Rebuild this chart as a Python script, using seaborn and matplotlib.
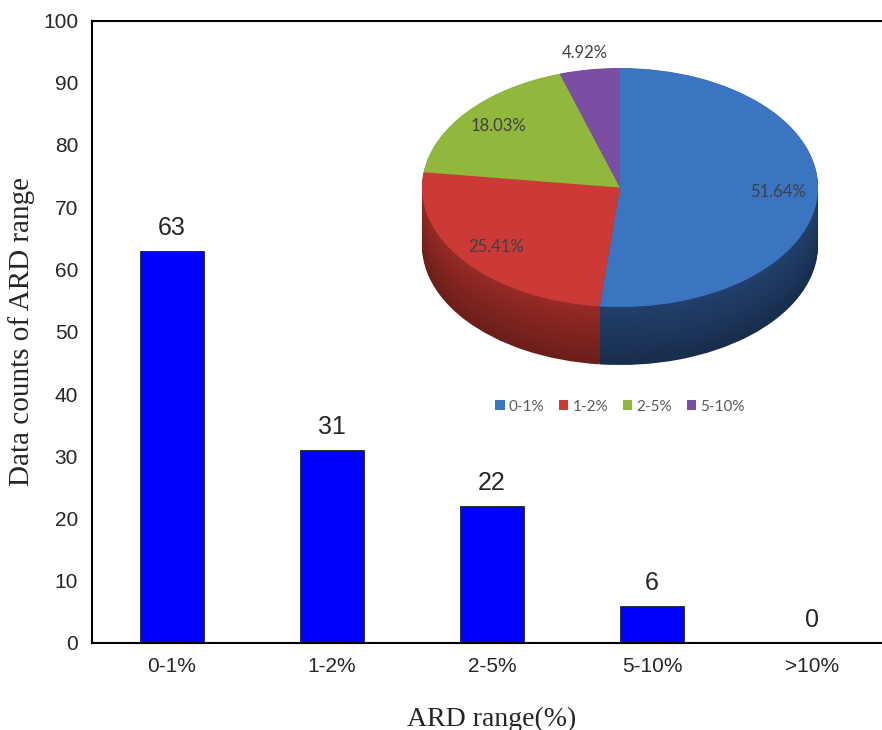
import numpy as np
import matplotlib
matplotlib.use('Agg')
import matplotlib.pyplot as plt
import seaborn as sns

# data
categories = ['0-1%', '1-2%', '2-5%', '5-10%', '>10%']
counts = [63, 31, 22, 6, 0]
pie_labels = categories[:4]
pie_values = counts[:4]

top_colors = ['#3B74C1', '#CB3A36', '#92B73D', '#7A4EA2']
side_colors = ['#1C355A', '#7E231F', '#5E7A22', '#4B2E66']

sns.set_style('white')

fig = plt.figure(figsize=(8.82, 7.30), dpi=100)
ax = fig.add_axes([92 / 882, 87 / 730, 800 / 882, 622.5 / 730])

# bar chart
sns.barplot(x=categories, y=counts, color='#0000FF', saturation=1, width=0.4,
            edgecolor='#222222', linewidth=0.6, ax=ax)
ax.set_xlim(-0.5, 4.5)
ax.set_ylim(0, 100)
ax.set_yticks(range(0, 101, 10))
for s in ax.spines.values():
    s.set_visible(True)
    s.set_color('black')
    s.set_linewidth(1.5)
ax.tick_params(length=0, labelsize=15, pad=10)
for lab in ax.get_xticklabels() + ax.get_yticklabels():
    lab.set_fontfamily('Liberation Sans')
ax.set_xlabel('ARD range(%)', fontfamily='Liberation Serif', fontsize=20, labelpad=22)
ax.set_ylabel('Data counts of ARD range', fontfamily='Liberation Serif', fontsize=21, labelpad=6)
ax.bar_label(ax.containers[0], fontsize=18, fontfamily='Liberation Sans', padding=8)

# 3D-looking pie inset
pax = fig.add_axes([422 / 882, 365 / 730, 396 / 882, 297 / 730])
depth = 0.485
n_layers = 40
for i, d in enumerate(np.linspace(depth, 0.004, n_layers)):
    f = i / (n_layers - 1)
    cols = []
    for c in side_colors:
        rgb = np.array(matplotlib.colors.to_rgb(c))
        cols.append(tuple(np.clip(rgb * (0.85 + 0.35 * f), 0, 1)))
    pax.pie(pie_values, colors=cols, startangle=90, counterclock=False,
            center=(0, -d), wedgeprops=dict(linewidth=0))

wedges, _, autotexts = pax.pie(pie_values, colors=top_colors, startangle=90,
                               counterclock=False, autopct='%.2f%%', pctdistance=0.8,
                               wedgeprops=dict(linewidth=0),
                               textprops=dict(color='#404040', fontsize=12, fontfamily='Lato'))
for w, t, v in zip(wedges, autotexts, pie_values):
    if v / sum(pie_values) < 0.1:
        ang = np.deg2rad((w.theta1 + w.theta2) / 2)
        t.set_position((1.14 * np.cos(ang), 1.14 * np.sin(ang)))

pax.set_aspect('auto')
pax.set_xlim(-1, 1)
pax.set_ylim(-1 - depth, 1)
pax.axis('off')

leg = pax.legend(wedges, pie_labels, loc='center', bbox_to_anchor=(0.5, -0.14), ncol=4,
                 frameon=False, handlelength=0.6, handleheight=0.6, handletextpad=0.25,
                 columnspacing=1.0, prop=dict(family='Lato', size=11))
for t in leg.get_texts():
    t.set_color('#595959')

fig.savefig('out.png', dpi=100)
